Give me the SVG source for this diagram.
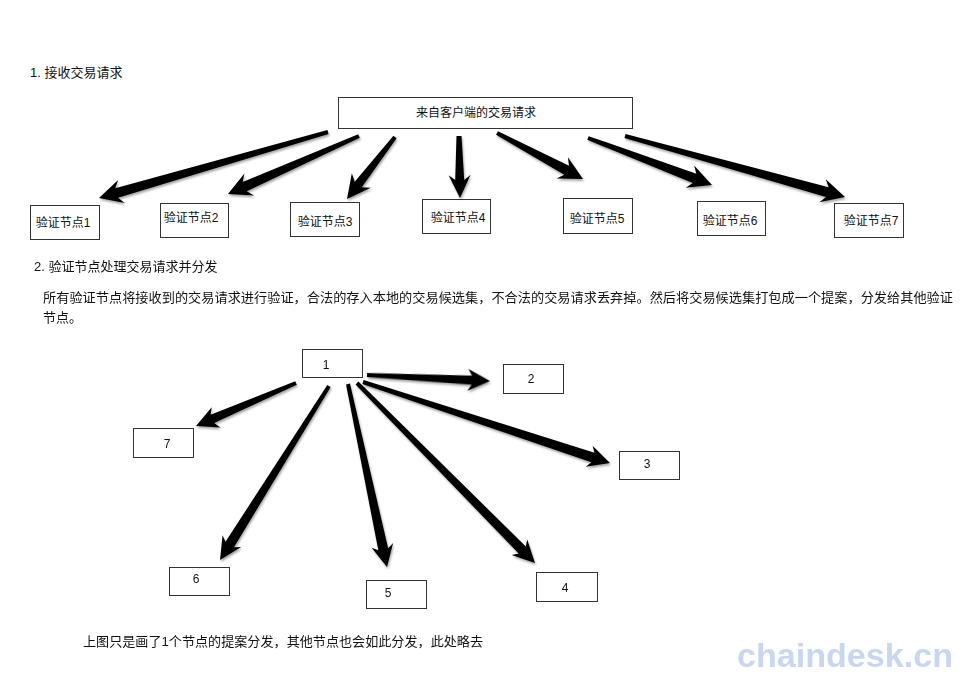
<svg xmlns="http://www.w3.org/2000/svg" width="975" height="688" viewBox="0 0 975 688">
<defs>
<style>
.t{font-family:"Liberation Sans","Noto Sans CJK SC",sans-serif;fill:#111;}
.h{font-size:13px;}
.n{font-size:12px;text-anchor:middle;}
.box{fill:#fff;stroke:#333;stroke-width:1;}
.arr{fill:#000;}
.wm{font-family:"Liberation Sans",Arial,sans-serif;font-weight:bold;font-size:34px;fill:#c9d6ef;}
</style>
<filter id="sh" x="-20%" y="-20%" width="140%" height="140%">
<feDropShadow dx="1" dy="2" stdDeviation="1.2" flood-color="#000" flood-opacity="0.35"/>
</filter>
</defs>
<rect width="975" height="688" fill="#fff"/>

<text class="t h" x="30" y="77">1. 接收交易请求</text>

<g id="src"><rect class="box" x="338.5" y="97.5" width="294" height="31"/><text class="t n" x="476" y="117">来自客户端的交易请求</text></g>
<g id="v1"><rect class="box" x="30.5" y="205.5" width="69" height="34"/><text class="t n" x="63" y="227">验证节点1</text></g>
<g id="v2"><rect class="box" x="160.5" y="203.5" width="68" height="34"/><text class="t n" x="191" y="222">验证节点2</text></g>
<g id="v3"><rect class="box" x="290.5" y="202.5" width="69" height="34"/><text class="t n" x="325" y="226">验证节点3</text></g>
<g id="v4"><rect class="box" x="422.5" y="199.5" width="68" height="34"/><text class="t n" x="458" y="222">验证节点4</text></g>
<g id="v5"><rect class="box" x="563.5" y="198.5" width="69" height="35"/><text class="t n" x="597" y="223">验证节点5</text></g>
<g id="v6"><rect class="box" x="697.5" y="201.5" width="68" height="34"/><text class="t n" x="730" y="225">验证节点6</text></g>
<g id="v7"><rect class="box" x="834.5" y="203.5" width="69" height="34"/><text class="t n" x="871" y="225">验证节点7</text></g>

<g id="connectors" class="arr" filter="url(#sh)">
<g transform="translate(328,132) rotate(163.92)"><polygon points="0,-2 220,-5 215,-12 238.3,0 215,12 220,5 0,2"/></g>
<g transform="translate(359,136) rotate(156.12)"><polygon points="0,-2 125,-5 120,-12 143.3,0 120,12 125,5 0,2"/></g>
<g transform="translate(395,137) rotate(127.75)"><polygon points="0,-2 60,-4.5 55,-12 78.4,0 55,12 60,4.5 0,2"/></g>
<g transform="translate(459,136) rotate(89.08)"><polygon points="0,-2.5 44,-4.5 39,-11 62,0 39,11 44,4.5 0,2.5"/></g>
<g transform="translate(497,133) rotate(28.14)"><polygon points="0,-2 79,-5 74,-12 97.5,0 74,12 79,5 0,2"/></g>
<g transform="translate(588,138) rotate(20.76)"><polygon points="0,-2 114,-5 109,-12 132.6,0 109,12 114,5 0,2"/></g>
<g transform="translate(625,136) rotate(15.50)"><polygon points="0,-2 210,-5 205,-12 228.3,0 205,12 210,5 0,2"/></g>

<g transform="translate(367,375) rotate(2.79)"><polygon points="0,-2 105,-4.5 101,-11 123.1,0 101,11 105,4.5 0,2"/></g>
<g transform="translate(296,383) rotate(156.73)"><polygon points="0,-2 91,-4.5 87,-11 108.9,0 87,11 91,4.5 0,2"/></g>
<g transform="translate(329,386) rotate(122.06)"><polygon points="0,-2 187,-5 183,-11 205.3,0 183,11 187,5 0,2"/></g>
<g transform="translate(348,384) rotate(77.97)"><polygon points="0,-2 169,-5 165,-11 187.1,0 165,11 169,5 0,2"/></g>
<g transform="translate(357,383) rotate(45.32)"><polygon points="0,-2 235,-5 231,-11 253.1,0 231,11 235,5 0,2"/></g>
<g transform="translate(363,382) rotate(18.16)"><polygon points="0,-2 242,-5 238,-11 259.9,0 238,11 242,5 0,2"/></g>
</g>

<text class="t h" x="34" y="271">2. 验证节点处理交易请求并分发</text>
<text class="t h" x="43" y="302" textLength="910" lengthAdjust="spacingAndGlyphs">所有验证节点将接收到的交易请求进行验证，合法的存入本地的交易候选集，不合法的交易请求丢弃掉。然后将交易候选集打包成一个提案，分发给其他验证</text>
<text class="t h" x="43" y="322">节点。</text>

<g id="p1"><rect class="box" x="302.5" y="349.5" width="60" height="28"/><text class="t n" x="326" y="369">1</text></g>
<g id="p2"><rect class="box" x="503.5" y="364.5" width="60" height="29"/><text class="t n" x="531" y="383">2</text></g>
<g id="p3"><rect class="box" x="619.5" y="451.5" width="60" height="28"/><text class="t n" x="647" y="468">3</text></g>
<g id="p4"><rect class="box" x="536.5" y="572.5" width="61" height="29"/><text class="t n" x="565" y="592">4</text></g>
<g id="p5"><rect class="box" x="366.5" y="580.5" width="60" height="28"/><text class="t n" x="388" y="597">5</text></g>
<g id="p6"><rect class="box" x="169.5" y="567.5" width="60" height="28"/><text class="t n" x="196" y="583">6</text></g>
<g id="p7"><rect class="box" x="133.5" y="428.5" width="60" height="29"/><text class="t n" x="167" y="448">7</text></g>

<text class="t h" x="83" y="646" textLength="400" lengthAdjust="spacingAndGlyphs">上图只是画了1个节点的提案分发，其他节点也会如此分发，此处略去</text>

<text class="wm" x="737" y="667" textLength="216" lengthAdjust="spacingAndGlyphs">chaindesk.cn</text>
</svg>
